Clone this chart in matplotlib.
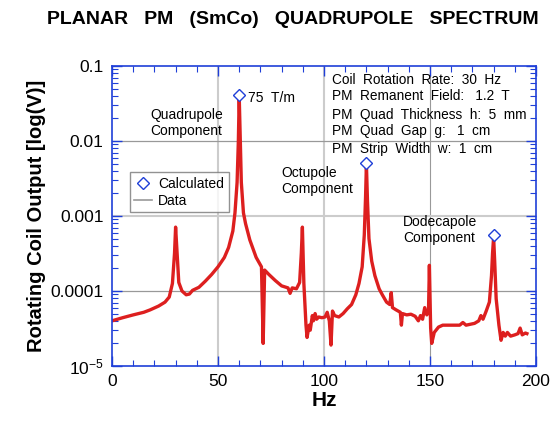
import matplotlib
matplotlib.use("Agg")
import matplotlib.pyplot as plt
from matplotlib.lines import Line2D
from matplotlib.ticker import FixedLocator, MultipleLocator, LogLocator, NullFormatter

plt.rcParams["font.family"] = ["Liberation Sans", "DejaVu Sans"]

# measured spectrum (Hz, coil output in V)
freq_hz = [
    0, 5, 10, 15, 18, 22, 25, 27, 28.5, 29.5, 30, 30.7, 31.5, 33, 35, 36.5, 38,
    41, 44, 47, 50, 53, 55, 57, 58, 59, 59.6, 60, 60.5, 61, 62, 63, 65, 68, 70.5,
    71.3, 72, 74, 77, 80, 83, 84, 85, 87, 88.5, 89.3, 89.8, 90.5, 91.5, 92, 93,
    93.5, 94.5, 95, 95.8, 96.5, 97.5, 99, 100.5, 101.5, 102.5, 103.3, 104, 105,
    107, 109, 111, 113, 115, 116.5, 118, 119, 119.6, 120, 120.5, 121.2, 122.5,
    124, 126, 127.5, 129.5, 131, 131.7, 132.3, 134, 136, 136.5, 137, 139, 141,
    143, 144.5, 145.5, 146.5, 147.5, 148.5, 149.3, 149.7, 150.3, 150.8, 152, 154,
    156, 158, 160, 162, 164, 165.5, 167, 169, 171, 173, 174, 175, 176.5, 178, 179,
    179.5, 180, 180.5, 181.2, 182.5, 183.5, 184.5, 185.5, 186.5, 188, 190, 191.5,
    192.5, 193.5, 195, 195.7,
]
data_v = [
    4.0e-5, 4.4e-5, 4.8e-5, 5.2e-5, 5.6e-5, 6.3e-5, 7.1e-5, 8.3e-5, 1.26e-4,
    3.2e-4, 7.1e-4, 3.2e-4, 1.3e-4, 1.0e-4, 8.9e-5, 9.1e-5, 1.02e-4, 1.12e-4,
    1.35e-4, 1.66e-4, 2.1e-4, 2.8e-4, 3.8e-4, 6.3e-4, 1.1e-3, 2.8e-3, 1.0e-2,
    4.0e-2, 1.0e-2, 2.8e-3, 1.1e-3, 7.9e-4, 4.8e-4, 2.8e-4, 2.1e-4, 2.0e-5,
    1.9e-4, 1.66e-4, 1.38e-4, 1.17e-4, 1.1e-4, 9.3e-5, 1.1e-4, 1.07e-4, 1.3e-4,
    3.2e-4, 7.1e-4, 1.26e-4, 3.5e-5, 2.4e-5, 3.5e-5, 3.0e-5, 4.7e-5, 4.0e-5,
    5.0e-5, 4.2e-5, 4.5e-5, 4.4e-5, 4.5e-5, 5.2e-5, 4.0e-5, 1.9e-5, 5.4e-5,
    4.7e-5, 4.5e-5, 5.0e-5, 5.8e-5, 6.6e-5, 8.9e-5, 1.26e-4, 2.1e-4, 5.6e-4,
    1.8e-3, 4.9e-3, 1.6e-3, 5.0e-4, 2.5e-4, 1.6e-4, 1.07e-4, 8.9e-5, 7.1e-5,
    6.6e-5, 9.5e-5, 6.0e-5, 5.6e-5, 5.2e-5, 3.5e-5, 5.0e-5, 4.8e-5, 4.9e-5,
    4.6e-5, 4.0e-5, 4.7e-5, 4.2e-5, 6.0e-5, 4.8e-5, 5.6e-5, 2.2e-4, 3.2e-5,
    2.0e-5, 2.8e-5, 3.3e-5, 3.5e-5, 3.5e-5, 3.5e-5, 3.5e-5, 3.5e-5, 3.8e-5,
    3.5e-5, 3.6e-5, 3.7e-5, 4.0e-5, 4.7e-5, 4.2e-5, 5.4e-5, 7.1e-5, 1.6e-4,
    3.2e-4, 5.2e-4, 2.5e-4, 7.9e-5, 3.5e-5, 2.2e-5, 2.8e-5, 2.5e-5, 2.8e-5,
    2.5e-5, 2.6e-5, 2.7e-5, 3.2e-5, 2.6e-5, 2.75e-5, 2.7e-5,
]

# calculated harmonic amplitudes
calc_hz = [60, 120, 180]
calc_v = [0.041, 0.0051, 0.00056]

y_ticks = [1e-5, 1e-4, 1e-3, 1e-2, 1e-1]
y_labels = ["$\\mathregular{10^{-5}}$", "0.0001", "0.001", "0.01", "0.1"]
x_ticks = [0, 50, 100, 150, 200]

params = [
    "Coil  Rotation  Rate:  30  Hz",
    "PM  Remanent  Field:   1.2  T",
    "PM  Quad  Thickness  h:  5  mm",
    "PM  Quad  Gap  g:   1  cm",
    "PM  Strip  Width  w:  1  cm",
]

blue = "#1f3fd8"
red = "#dd1f1f"

fig = plt.figure(figsize=(5.55, 4.23), dpi=100)
ax = fig.add_axes([0.2018, 0.1348, 0.764, 0.7092])

# grid lines
for xv, c, lw in [(50, "#cccccc", 1.5), (100, "#cccccc", 1.5), (150, "#999999", 0.8)]:
    ax.axvline(xv, color=c, lw=lw, zorder=0)
for yv, c, lw in [(1e-2, "#999999", 0.9), (1e-3, "#cccccc", 1.5), (1e-4, "#999999", 0.9)]:
    ax.axhline(yv, color=c, lw=lw, zorder=0)

ax.plot(freq_hz, data_v, color=red, lw=2.4, zorder=2)
ax.plot(calc_hz, calc_v, ls="none", marker="D", ms=6, mfc="white", mec=blue,
        mew=1.0, zorder=3)

ax.set_yscale("log")
ax.set_xlim(0, 200)
ax.set_ylim(1e-5, 1e-1)
ax.yaxis.set_major_locator(FixedLocator(y_ticks))
ax.set_yticklabels(y_labels)
ax.yaxis.set_minor_locator(LogLocator(base=10, subs=range(2, 10)))
ax.yaxis.set_minor_formatter(NullFormatter())
ax.set_xticks(x_ticks)
ax.xaxis.set_minor_locator(MultipleLocator(10))

for s in ax.spines.values():
    s.set_color(blue)
    s.set_linewidth(1.2)
ax.tick_params(which="both", direction="in", top=True, right=True, colors=blue,
               labelcolor="black", labelsize=12.5)
ax.tick_params(which="major", length=7, width=1.0, pad=6)
ax.tick_params(which="minor", length=4, width=0.8)

ax.set_xlabel("Hz", fontsize=15, fontweight="bold", labelpad=1)
ax.set_ylabel("Rotating Coil Output [log(V)]", fontsize=14.5, fontweight="bold",
              labelpad=3)

fig.text(0.528, 0.953, "PLANAR   PM   (SmCo)   QUADRUPOLE   SPECTRUM",
         ha="center", va="center", fontsize=14, fontweight="bold")

# parameter block
for yy, line in zip([0.953, 0.900, 0.837, 0.783, 0.723], params):
    ax.text(0.519, yy, line, transform=ax.transAxes, fontsize=9.8, va="center")

ax.text(0.321, 0.893, "75  T/m", transform=ax.transAxes, fontsize=10, va="center")
ax.text(0.0896, 0.81, "Quadrupole\nComponent", transform=ax.transAxes,
        fontsize=10, va="center", linespacing=1.2)
ax.text(0.399, 0.617, "Octupole\nComponent", transform=ax.transAxes,
        fontsize=10, va="center", linespacing=1.2)
ax.text(0.686, 0.453, "Dodecapole\nComponent", transform=ax.transAxes,
        fontsize=10, va="center", linespacing=1.2)

handles = [
    Line2D([], [], ls="none", marker="D", ms=6, mfc="white", mec=blue, mew=1.0),
    Line2D([], [], color="#999999", lw=1.2),
]
leg = ax.legend(handles, ["Calculated", "Data"], loc="upper left",
                bbox_to_anchor=(0.025, 0.67), fontsize=10, frameon=True,
                fancybox=False, handlelength=1.3, handletextpad=0.4,
                borderpad=0.35, labelspacing=0.2)
leg.get_frame().set_edgecolor("#777777")
leg.get_frame().set_linewidth(1.0)

fig.savefig("out.png", dpi=100)
